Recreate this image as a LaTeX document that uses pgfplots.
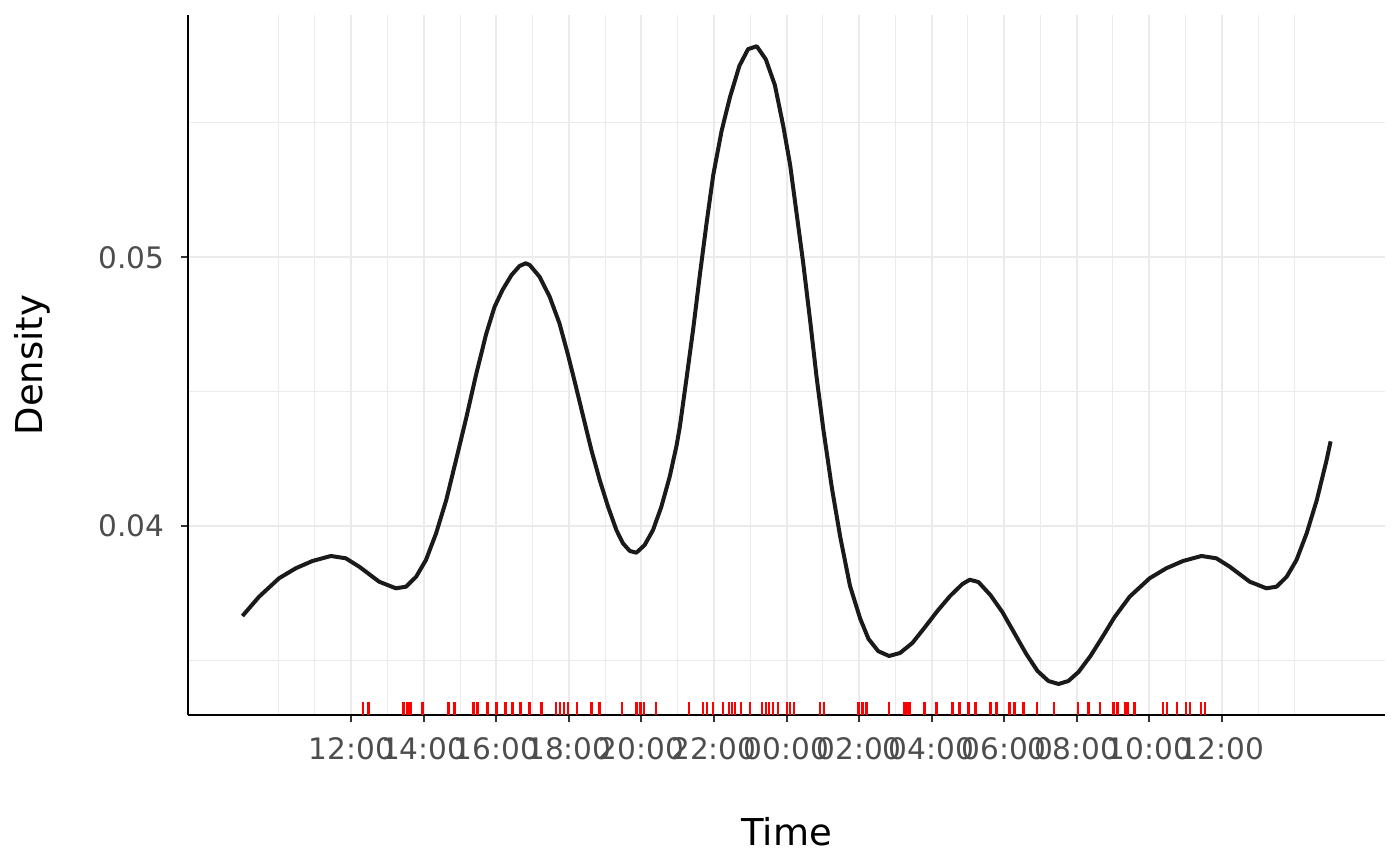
\documentclass[border=0pt]{standalone}
\usepackage{fontspec}
\setmainfont{DejaVu Sans}
\usepackage{pgfplots}
\pgfplotsset{compat=1.18}
\definecolor{gridc}{HTML}{EBEBEB}
\definecolor{tickc}{HTML}{4D4D4D}
\definecolor{linec}{HTML}{1A1A1A}
\definecolor{tickmark}{HTML}{333333}
\definecolor{rugc}{HTML}{FF0000}

\pgfplotstableread{
h v
9.00 0.03665
9.46 0.037369
10.01 0.038054
10.47 0.038426
10.93 0.038697
11.44 0.038884
11.85 0.038798
12.22 0.038485
12.77 0.037927
13.23 0.037681
13.51 0.037741
13.79 0.038113
14.06 0.038735
14.34 0.039728
14.62 0.040968
14.89 0.042456
15.17 0.044019
15.44 0.04562
15.72 0.047146
15.95 0.04815
16.17 0.048783
16.42 0.049341
16.64 0.049676
16.81 0.049777
16.92 0.049713
17.19 0.049278
17.47 0.048534
17.74 0.047544
17.97 0.046400
18.11 0.045650
18.25 0.044880
18.43 0.043880
18.62 0.042830
18.85 0.041712
19.08 0.040718
19.31 0.039851
19.49 0.039356
19.68 0.039070
19.86 0.039006
20.09 0.039293
20.32 0.039851
20.55 0.040718
20.78 0.041835
20.97 0.043000
21.06 0.043700
21.24 0.045456
21.43 0.047358
21.61 0.049334
21.80 0.05131
21.98 0.053059
22.21 0.05470
22.44 0.055951
22.70 0.05712
22.94 0.057745
23.18 0.057853
23.43 0.057365
23.68 0.056405
23.91 0.054887
24.10 0.053439
24.28 0.051615
24.46 0.049792
24.65 0.047659
24.83 0.04553
25.02 0.043554
25.25 0.041425
25.48 0.039602
25.75 0.037774
26.03 0.036557
26.26 0.035798
26.53 0.03534
26.83 0.035162
27.13 0.035274
27.47 0.035646
27.82 0.036241
28.16 0.036837
28.51 0.037395
28.85 0.037841
29.05 0.038
29.29 0.037916
29.62 0.037432
29.95 0.0368
30.28 0.036018
30.61 0.035236
30.92 0.034604
31.22 0.034231
31.50 0.03412
31.77 0.034231
32.05 0.034566
32.38 0.035162
32.71 0.035869
33.04 0.0366
33.46 0.037369
34.01 0.038054
34.47 0.038426
34.93 0.038697
35.44 0.038884
35.85 0.038798
36.22 0.038485
36.77 0.037927
37.23 0.037681
37.51 0.037741
37.79 0.038113
38.06 0.038735
38.34 0.039728
38.62 0.040968
38.89 0.042456
39.00 0.04315
}\densitytable

\pgfplotstableread{
h r
12.33 0.033208
12.47 0.033208
13.44 0.033208
13.55 0.033208
13.63 0.033208
13.96 0.033208
14.68 0.033208
14.85 0.033208
15.37 0.033208
15.48 0.033208
15.76 0.033208
16.01 0.033208
16.25 0.033208
16.45 0.033208
16.67 0.033208
16.92 0.033208
17.25 0.033208
17.64 0.033208
17.75 0.033208
17.86 0.033208
17.97 0.033208
18.22 0.033208
18.63 0.033208
18.85 0.033208
19.46 0.033208
19.87 0.033208
19.98 0.033208
20.07 0.033208
20.40 0.033208
21.31 0.033208
21.70 0.033208
21.81 0.033208
21.97 0.033208
22.25 0.033208
22.41 0.033208
22.50 0.033208
22.58 0.033208
22.75 0.033208
22.99 0.033208
23.33 0.033208
23.44 0.033208
23.52 0.033208
23.63 0.033208
23.77 0.033208
24.02 0.033208
24.10 0.033208
24.21 0.033208
24.93 0.033208
25.04 0.033208
25.98 0.033208
26.09 0.033208
26.20 0.033208
26.83 0.033208
27.25 0.033208
27.33 0.033208
27.41 0.033208
27.80 0.033208
28.13 0.033208
28.57 0.033208
28.77 0.033208
29.02 0.033208
29.21 0.033208
29.62 0.033208
29.79 0.033208
30.15 0.033208
30.29 0.033208
30.54 0.033208
30.90 0.033208
31.37 0.033208
32.03 0.033208
32.33 0.033208
32.64 0.033208
33.02 0.033208
33.13 0.033208
33.35 0.033208
33.41 0.033208
33.60 0.033208
34.38 0.033208
34.49 0.033208
34.76 0.033208
35.01 0.033208
35.12 0.033208
35.43 0.033208
35.54 0.033208
}\rugtable

\begin{document}
\begin{tikzpicture}
\begin{axis}[
  at={(0,0)}, anchor=south west,
  scale only axis, width=598.5pt, height=350pt,
  xmin=7.5, xmax=40.5, ymin=0.032966, ymax=0.059017,
  axis lines=left,
  axis line style={-, line width=1pt, black},
  xtick={12,14,16,18,20,22,24,26,28,30,32,34,36},
  xticklabels={12:00,14:00,16:00,18:00,20:00,22:00,00:00,02:00,04:00,06:00,08:00,10:00,12:00},
  ytick={0.04,0.05}, yticklabels={0.04,0.05},
  minor xtick={10,11,13,15,17,19,21,23,25,27,29,31,33,35,37,38},
  minor ytick={0.035,0.045,0.055},
  grid=both,
  major grid style={gridc, line width=1pt},
  minor grid style={gridc, line width=0.5pt},
  tick align=outside, major tick length=3.5pt, minor tick length=0pt,
  tick style={tickmark, line width=1pt},
  /pgf/number format/assume math mode=true,
  ticklabel style={font=\fontsize{14.8}{17}\selectfont, text=tickc},
  xticklabel style={anchor=north, inner sep=0pt, yshift=-7.5pt},
  yticklabel style={anchor=east, inner sep=0pt, xshift=-8pt},
  clip=false,
]
\addplot[linec, line width=2pt, line join=round] table[x=h, y=v] {\densitytable};
\addplot[only marks, rugc, mark=|, mark size=3.25pt, mark options={line width=1.25pt, draw=rugc}]
  table[x=h, y=r] {\rugtable};
\node[anchor=base, font=\fontsize{18.5}{22}\selectfont] at ([yshift=-65pt]rel axis cs:0.5,0) {Time};
\node[anchor=base, rotate=90, font=\fontsize{18.5}{22}\selectfont] at ([xshift=-72.5pt]rel axis cs:0,0.5) {Density};
\end{axis}
\pgfresetboundingbox
\useasboundingbox (-94pt,-75.5pt) rectangle (606pt,357.5pt);
\end{tikzpicture}
\end{document}
